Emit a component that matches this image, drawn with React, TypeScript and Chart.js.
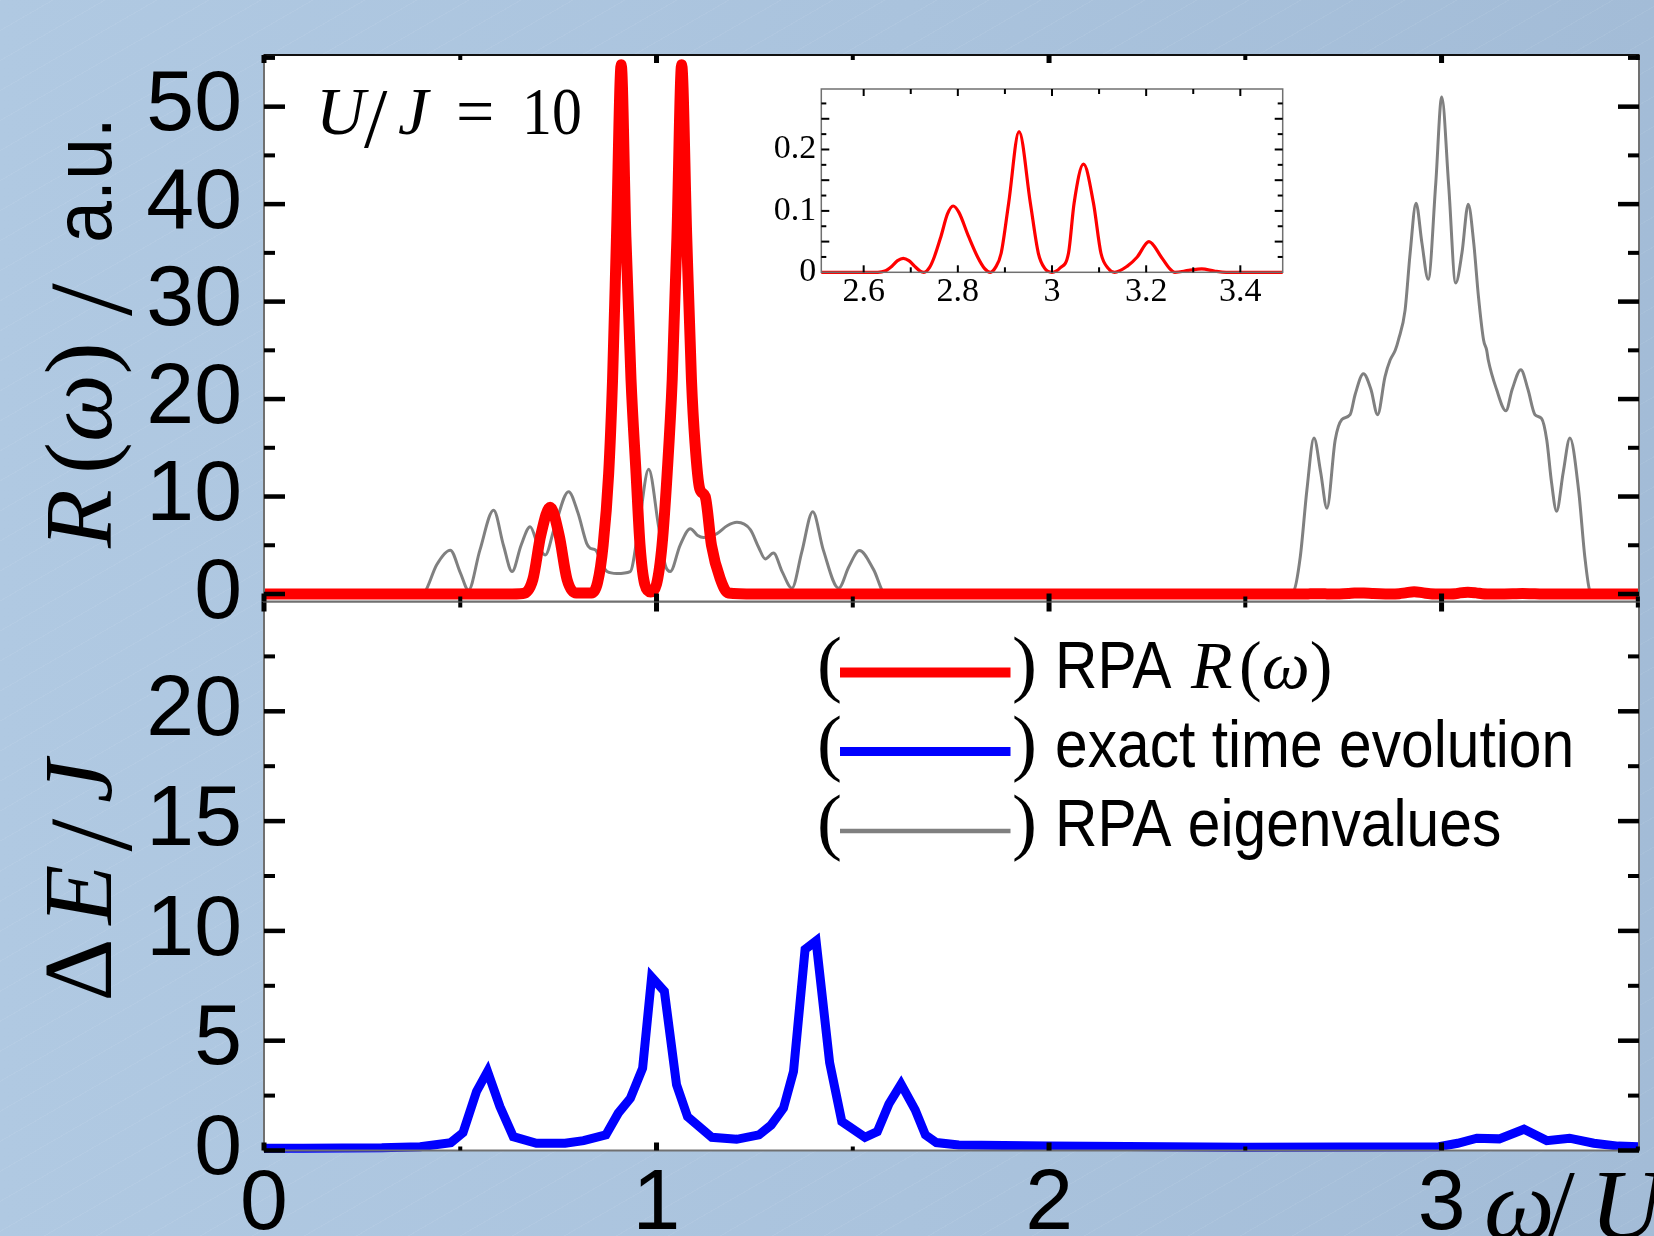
import React, { useEffect, useRef } from "react";
import { Chart, registerables } from "chart.js";
Chart.register(...registerables);

const W = 1654;
const H = 1236;
const SANS = "'Liberation Sans', Arial, sans-serif";
const SERIF = "'Liberation Serif', 'Times New Roman', serif";

type Pt = [number, number];

// ---------- axis ticks ----------
const xTickLabels = [0, 1, 2, 3];
const xMinorTicks = [0.5, 1.5, 2.5, 3.5];
const topYTicks = [0, 10, 20, 30, 40, 50];
const topYMinor = [5, 15, 25, 35, 45, 55];
const bottomYTicks = [0, 5, 10, 15, 20];
const bottomYMinor = [2.5, 7.5, 12.5, 17.5, 22.5];
const insetXTicks = [2.6, 2.8, 3.0, 3.2, 3.4];
const insetXMinor = [2.7, 2.9, 3.1, 3.3];
const insetYTicks = [0, 0.1, 0.2];
const insetYMarks = [0.05, 0.1, 0.15, 0.2, 0.25];
const insetYMinor = [0.025, 0.075, 0.125, 0.175, 0.225, 0.275];

// ---------- legend ----------
const legendLabels = ["RPA", "exact time evolution", "RPA eigenvalues"];
const legendColors = ["#ff0000", "#0000ff", "#808080"];

// ---------- series: RPA R(omega) (red) ----------
const rpaCurve: Pt[] = [
  [0, 0], [0.62, 0], [0.66, 0.05], [0.685, 1.5], [0.705, 6], [0.729, 8.9], [0.752, 6], [0.772, 1.5],
  [0.795, 0.1], [0.835, 0.1], [0.85, 1.2], [0.864, 5], [0.878, 12.3], [0.888, 22], [0.898, 36.6],
  [0.91, 54.3], [0.922, 36.6], [0.935, 22], [0.948, 12.3], [0.958, 5], [0.97, 1], [0.985, 0.2],
  [1.0, 1], [1.014, 5], [1.027, 12.3], [1.04, 22], [1.052, 36.6], [1.064, 54.3], [1.077, 36.6],
  [1.089, 22], [1.098, 15.5], [1.11, 10.8], [1.124, 10], [1.14, 5], [1.162, 1.6], [1.183, 0.1],
  [1.25, 0], [2.63, 0], [2.645, 0.002], [2.66, 0.01], [2.672, 0.019], [2.684, 0.0228], [2.696, 0.019],
  [2.708, 0.01], [2.72, 0.002], [2.728, 0], [2.74, 0.008], [2.75, 0.025], [2.764, 0.058], [2.778, 0.095],
  [2.79, 0.108], [2.802, 0.098], [2.823, 0.058], [2.842, 0.025], [2.857, 0.006], [2.869, 0],
  [2.88, 0.008], [2.892, 0.031], [2.908, 0.113], [2.93, 0.229], [2.954, 0.113], [2.971, 0.031],
  [2.985, 0.006], [3.0, 0], [3.017, 0.007], [3.035, 0.031], [3.047, 0.113], [3.067, 0.176],
  [3.088, 0.113], [3.104, 0.031], [3.12, 0.006], [3.133, 0], [3.16, 0.01], [3.181, 0.025],
  [3.206, 0.05], [3.232, 0.025], [3.25, 0.006], [3.261, 0], [3.29, 0.003], [3.318, 0.0055],
  [3.345, 0.002], [3.37, 0], [3.503, 0],
];

// ---------- series: RPA eigenvalues (gray) ----------
const eigCurve: Pt[] = [
  [0, 0], [0.4, 0], [0.41, 0.2], [0.44, 3.0], [0.4746, 4.5], [0.5, 2.2], [0.521, 0.4], [0.55, 4.5],
  [0.585, 8.6], [0.61, 5], [0.632, 2.3], [0.655, 5], [0.678, 6.9], [0.698, 5], [0.7166, 4.0],
  [0.74, 6.8], [0.776, 10.5], [0.8, 8.3], [0.822, 5.2], [0.831, 4.7], [0.845, 4.5], [0.86, 3.2],
  [0.874, 2.3], [0.899, 2.1], [0.933, 2.3], [0.955, 7], [0.98, 12.8], [1.005, 7], [1.022, 3],
  [1.035, 2.3], [1.06, 5], [1.086, 6.7], [1.105, 6.0], [1.12, 5.8], [1.154, 6.2], [1.18, 7.0],
  [1.205, 7.35], [1.239, 6.6], [1.26, 4.8], [1.277, 3.6], [1.298, 4.2], [1.32, 2.3], [1.345, 0.6],
  [1.37, 4.3], [1.398, 8.45], [1.425, 4.5], [1.464, 0.6], [1.49, 2.8], [1.517, 4.45], [1.553, 2.5],
  [1.583, 0], [2.6, 0], [2.623, 0.3], [2.64, 3.8], [2.657, 10.7], [2.675, 16.0], [2.692, 12.5],
  [2.708, 8.8], [2.729, 15.8], [2.746, 17.9], [2.767, 18.4], [2.78, 20.5], [2.801, 22.6], [2.82, 21],
  [2.837, 18.4], [2.856, 22.3], [2.869, 24.0], [2.882, 25.0], [2.89, 26.05], [2.907, 29.1],
  [2.92, 35], [2.935, 40.1], [2.95, 36], [2.966, 32.3], [2.985, 42], [3.0005, 51.0], [3.018, 42],
  [3.036, 31.9], [3.052, 35], [3.068, 40.0], [3.082, 36], [3.094, 30.5], [3.107, 26.05],
  [3.115, 25.0], [3.119, 24.0], [3.14, 21], [3.164, 18.8], [3.18, 21], [3.202, 23.0], [3.22, 21],
  [3.238, 18.4], [3.255, 18.0], [3.268, 15.8], [3.28, 11.5], [3.293, 8.5], [3.31, 12.5],
  [3.327, 16.0], [3.349, 10.7], [3.365, 3.8], [3.378, 0.3], [3.39, 0], [3.503, 0],
];

// ---------- series: exact time evolution (blue) ----------
const exactCurve: Pt[] = [
  [0, 0.1], [0.1, 0.1], [0.2, 0.11], [0.3, 0.12], [0.398, 0.17], [0.476, 0.36], [0.507, 0.81],
  [0.5415, 2.69], [0.5695, 3.6], [0.601, 2.0], [0.635, 0.63], [0.694, 0.33], [0.767, 0.33],
  [0.814, 0.45], [0.871, 0.71], [0.9025, 1.7], [0.9335, 2.38], [0.9646, 3.75], [0.9875, 7.9],
  [1.02, 7.25], [1.051, 2.99], [1.079, 1.54], [1.141, 0.6], [1.204, 0.51], [1.261, 0.71],
  [1.292, 1.16], [1.3235, 1.93], [1.349, 3.6], [1.3785, 9.16], [1.4065, 9.54], [1.441, 4.0],
  [1.472, 1.32], [1.531, 0.6], [1.5625, 0.86], [1.592, 2.12], [1.623, 3.02], [1.659, 1.85],
  [1.685, 0.71], [1.713, 0.36], [1.77, 0.25], [2.0, 0.2], [2.5, 0.15], [2.993, 0.17], [3.041, 0.33],
  [3.09, 0.56], [3.147, 0.53], [3.21, 0.97], [3.268, 0.45], [3.326, 0.56], [3.388, 0.33],
  [3.45, 0.2], [3.503, 0.17],
];

const toXY = (arr: Pt[]) => arr.map(([x, y]) => ({ x, y }));

interface TickSpec { values: number[]; len: number; width: number }
interface FrameCfg {
  frameColor: string;
  topColor?: string;
  frameWidth: number;
  yTicks: TickSpec[];
  xTop: TickSpec[];
  xBottom: TickSpec[];
}

type Part = { t: string; f: string; at?: number; dy?: number; sx?: number };
function drawSeq(ctx: CanvasRenderingContext2D, parts: Part[], x0: number, y0: number) {
  let x = x0;
  for (const p of parts) {
    if (p.at !== undefined) x = x0 + p.at;
    const sx = p.sx ?? 1;
    ctx.save();
    ctx.font = p.f;
    ctx.fillStyle = "#000";
    ctx.textBaseline = "alphabetic";
    ctx.textAlign = "left";
    const w = ctx.measureText(p.t).width * sx;
    ctx.translate(x, y0 + (p.dy ?? 0));
    ctx.scale(sx, 1);
    ctx.fillText(p.t, 0, 0);
    ctx.restore();
    x += w;
  }
}

function framePlugin(id: string, cfg: FrameCfg, extra?: (ctx: CanvasRenderingContext2D, chart: any) => void) {
  return {
    id,
    beforeDraw(chart: any) {
      const { ctx, chartArea: a } = chart;
      ctx.save();
      ctx.fillStyle = "#ffffff";
      ctx.fillRect(a.left, a.top, a.right - a.left, a.bottom - a.top);
      ctx.restore();
    },
    afterDraw(chart: any) {
      const { ctx, chartArea: a, scales } = chart;
      const xs = scales.x;
      const ys = scales.y;
      ctx.save();
      ctx.strokeStyle = cfg.frameColor;
      ctx.lineWidth = cfg.frameWidth;
      ctx.strokeRect(a.left, a.top, a.right - a.left, a.bottom - a.top);
      if (cfg.topColor) {
        ctx.strokeStyle = cfg.topColor;
        ctx.beginPath();
        ctx.moveTo(a.left, a.top);
        ctx.lineTo(a.right, a.top);
        ctx.stroke();
      }
      ctx.fillStyle = "#000";
      for (const t of cfg.yTicks) {
        for (const v of t.values) {
          const p = ys.getPixelForValue(v);
          if (p < a.top - 1 || p > a.bottom + 1) continue;
          ctx.fillRect(a.left, p - t.width / 2, t.len, t.width);
          ctx.fillRect(a.right - t.len, p - t.width / 2, t.len, t.width);
        }
      }
      for (const t of cfg.xTop) {
        for (const v of t.values) {
          const p = xs.getPixelForValue(v);
          if (p < a.left - 1 || p > a.right + 1) continue;
          ctx.fillRect(p - t.width / 2, a.top, t.width, t.len);
        }
      }
      for (const t of cfg.xBottom) {
        for (const v of t.values) {
          const p = xs.getPixelForValue(v);
          if (p < a.left - 1 || p > a.right + 1) continue;
          ctx.fillRect(p - t.width / 2, a.bottom - t.len, t.width, t.len);
        }
      }
      ctx.restore();
      if (extra) {
        ctx.save();
        extra(ctx, chart);
        ctx.restore();
      }
    },
  };
}

const bigTickFont = { family: SANS, size: 86, lineHeight: 1 };

function topConfig(): any {
  return {
    type: "line",
    data: {
      datasets: [
        {
          data: toXY(rpaCurve), borderColor: "#ff0000", borderWidth: 11, pointRadius: 0,
          cubicInterpolationMode: "monotone", fill: false, borderJoinStyle: "round",
          clip: { left: 0, right: 0, top: 6, bottom: 6 },
        },
        {
          data: toXY(eigCurve), borderColor: "#808080", borderWidth: 3, pointRadius: 0,
          cubicInterpolationMode: "monotone", fill: false,
          clip: { left: 0, right: 0, top: 3, bottom: 3 },
        },
      ],
    },
    options: {
      animation: false, responsive: false, devicePixelRatio: 1, events: [],
      layout: { padding: { left: 0, top: 55, right: 15, bottom: 98.5 } },
      plugins: { legend: { display: false }, tooltip: { enabled: false } },
      scales: {
        x: { type: "linear", min: 0, max: 3.503, display: false },
        y: {
          type: "linear", min: -0.77, max: 55.3,
          grid: { display: false, drawTicks: false }, border: { display: false },
          afterBuildTicks: (s: any) => { s.ticks = topYTicks.map((v) => ({ value: v })); },
          afterFit: (s: any) => { s.width = 264; s.paddingTop = 0; s.paddingBottom = 0; },
          ticks: { font: bigTickFont, color: "#000", padding: 22, callback: (v: any) => String(v) },
        },
      },
    },
    plugins: [
      framePlugin("topFrame", {
        frameColor: "#707070", topColor: "#111111", frameWidth: 2,
        yTicks: [{ values: topYTicks, len: 21, width: 4.5 }, { values: topYMinor, len: 11, width: 4 }],
        xTop: [{ values: xTickLabels, len: 8, width: 5 }, { values: xMinorTicks, len: 5, width: 4 }],
        xBottom: [{ values: xTickLabels, len: 8, width: 5 }, { values: xMinorTicks, len: 5, width: 4 }],
      }, (ctx) => {
        // y-axis title: R(ω) / a.u.
        ctx.translate(111, 548);
        ctx.rotate(-Math.PI / 2);
        drawSeq(ctx, [
          { t: "R", f: `italic 96px ${SERIF}`, at: 0 },
          { t: "(", f: `96px ${SERIF}`, at: 74 },
          { t: "ω", f: `italic 96px ${SERIF}` },
          { t: ")", f: `96px ${SERIF}` },
          { t: "/", f: `118px ${SERIF}`, at: 232, dy: 20 },
          { t: "a.u.", f: `82px ${SANS}`, at: 305, sx: 0.92 },
        ], 0, 0);
        ctx.setTransform(1, 0, 0, 1, 0, 0);
        // annotation U/J = 10
        drawSeq(ctx, [
          { t: "U", f: `italic 68px ${SERIF}`, at: 316 },
          { t: "/", f: `84px ${SERIF}`, at: 364, dy: 13 },
          { t: "J", f: `italic 68px ${SERIF}`, at: 398 },
          { t: "=", f: `68px ${SERIF}`, at: 456 },
          { t: "10", f: `68px ${SERIF}`, at: 522, sx: 0.88 },
        ], 0, 134.4);
      }),
    ],
  };
}

function bottomConfig(): any {
  return {
    type: "line",
    data: {
      datasets: [
        {
          data: toXY(exactCurve), borderColor: "#0000ff", borderWidth: 9, pointRadius: 0,
          tension: 0, fill: false, borderJoinStyle: "miter",
          clip: { left: 0, right: 0, top: 5, bottom: 5 },
        },
      ],
    },
    options: {
      animation: false, responsive: false, devicePixelRatio: 1, events: [],
      layout: { padding: { left: 0, top: 601.5, right: 15, bottom: 0 } },
      plugins: { legend: { display: false }, tooltip: { enabled: false } },
      scales: {
        x: {
          type: "linear", min: 0, max: 3.503,
          grid: { display: false, drawTicks: false }, border: { display: false },
          afterBuildTicks: (s: any) => { s.ticks = xTickLabels.map((v) => ({ value: v })); },
          afterFit: (s: any) => { s.height = 85.5; s.paddingLeft = 0; s.paddingRight = 0; },
          ticks: {
            font: bigTickFont, color: "#000", padding: 12, maxRotation: 0, minRotation: 0,
            autoSkip: false, callback: (v: any) => String(v),
          },
        },
        y: {
          type: "linear", min: 0, max: 25,
          grid: { display: false, drawTicks: false }, border: { display: false },
          afterBuildTicks: (s: any) => { s.ticks = bottomYTicks.map((v) => ({ value: v })); },
          afterFit: (s: any) => { s.width = 264; s.paddingTop = 0; s.paddingBottom = 0; },
          ticks: { font: bigTickFont, color: "#000", padding: 22, callback: (v: any) => String(v) },
        },
      },
    },
    plugins: [
      framePlugin("bottomFrame", {
        frameColor: "#707070", frameWidth: 2,
        yTicks: [{ values: bottomYTicks, len: 21, width: 4.5 }, { values: bottomYMinor, len: 11, width: 4 }],
        xTop: [{ values: xTickLabels, len: 10, width: 5 }, { values: xMinorTicks, len: 6, width: 4 }],
        xBottom: [{ values: xTickLabels, len: 8, width: 5 }, { values: xMinorTicks, len: 4, width: 4 }],
      }, (ctx) => {
        // y-axis title ΔE/J
        ctx.translate(111, 1001.6);
        ctx.rotate(-Math.PI / 2);
        drawSeq(ctx, [
          { t: "Δ", f: `98px ${SERIF}`, at: 0 },
          { t: "E", f: `italic 98px ${SERIF}`, at: 77 },
          { t: "/", f: `118px ${SERIF}`, at: 150, dy: 20 },
          { t: "J", f: `italic 98px ${SERIF}`, at: 198.6 },
        ], 0, 0);
        ctx.setTransform(1, 0, 0, 1, 0, 0);
        // legend
        const baselines = [687.5, 766.5, 846];
        const widths = [10, 9, 4.5];
        legendLabels.forEach((lab, i) => {
          const b = baselines[i];
          drawSeq(ctx, [{ t: "(", f: `75px ${SERIF}`, at: 817 }], 0, b);
          ctx.save();
          ctx.strokeStyle = legendColors[i];
          ctx.lineWidth = widths[i];
          ctx.beginPath();
          ctx.moveTo(840, b - 15);
          ctx.lineTo(1010.5, b - 15);
          ctx.stroke();
          ctx.restore();
          drawSeq(ctx, [
            { t: ")", f: `75px ${SERIF}`, at: 1012 },
            { t: lab, f: `66px ${SANS}`, at: 1055, sx: 0.89 },
          ], 0, b);
          if (i === 0) {
            drawSeq(ctx, [
              { t: "R", f: `italic 68px ${SERIF}`, at: 1191 },
              { t: "(", f: `68px ${SERIF}`, at: 1239 },
              { t: "ω", f: `italic 68px ${SERIF}` },
              { t: ")", f: `68px ${SERIF}` },
            ], 0, b);
          }
        });
        // x-axis title ω/U
        drawSeq(ctx, [
          { t: "ω", f: `italic 100px ${SERIF}`, at: 1484 },
          { t: "/", f: `100px ${SERIF}`, at: 1547 },
          { t: "U", f: `italic 100px ${SERIF}`, at: 1590 },
        ], 0, 1238);
      }),
    ],
  };
}

function insetConfig(): any {
  const insetFont = { family: SERIF, size: 34, lineHeight: 1 };
  return {
    type: "line",
    data: {
      datasets: [
        {
          data: toXY(rpaCurve), borderColor: "#ff0000", borderWidth: 3.2, pointRadius: 0,
          cubicInterpolationMode: "monotone", fill: false,
          clip: { left: 0, right: 0, top: 2, bottom: 2 },
        },
      ],
    },
    options: {
      animation: false, responsive: false, devicePixelRatio: 1, events: [],
      layout: { padding: { left: 0, top: 29, right: 37.3, bottom: 0 } },
      plugins: { legend: { display: false }, tooltip: { enabled: false } },
      scales: {
        x: {
          type: "linear", min: 2.51, max: 3.49,
          grid: { display: false, drawTicks: false }, border: { display: false },
          afterBuildTicks: (s: any) => { s.ticks = insetXTicks.map((v) => ({ value: v })); },
          afterFit: (s: any) => { s.height = 47.7; s.paddingLeft = 0; s.paddingRight = 0; },
          ticks: {
            font: insetFont, color: "#000", padding: 3, maxRotation: 0, minRotation: 0, autoSkip: false,
            callback: (v: any) => (Math.abs(v - 3) < 1e-9 ? "3" : Number(v).toFixed(1)),
          },
        },
        y: {
          type: "linear", min: 0, max: 0.2985,
          grid: { display: false, drawTicks: false }, border: { display: false },
          afterBuildTicks: (s: any) => { s.ticks = insetYTicks.map((v) => ({ value: v })); },
          afterFit: (s: any) => { s.width = 121.3; s.paddingTop = 0; s.paddingBottom = 0; },
          ticks: {
            font: insetFont, color: "#000", padding: 5,
            callback: (v: any) => (v === 0 ? "0" : Number(v).toFixed(1)),
          },
        },
      },
    },
    plugins: [
      framePlugin("insetFrame", {
        frameColor: "#707070", frameWidth: 1.5,
        yTicks: [{ values: insetYMarks, len: 8, width: 2 }, { values: insetYMinor, len: 5, width: 2 }],
        xTop: [{ values: insetXTicks, len: 7, width: 2 }, { values: insetXMinor, len: 5, width: 2 }],
        xBottom: [{ values: insetXTicks, len: 7, width: 2 }, { values: insetXMinor, len: 5, width: 2 }],
      }),
    ],
  };
}

export default function App() {
  const topRef = useRef<HTMLCanvasElement>(null);
  const botRef = useRef<HTMLCanvasElement>(null);
  const insRef = useRef<HTMLCanvasElement>(null);

  useEffect(() => {
    const charts: Chart[] = [];
    if (botRef.current) charts.push(new Chart(botRef.current, bottomConfig()));
    if (topRef.current) charts.push(new Chart(topRef.current, topConfig()));
    if (insRef.current) charts.push(new Chart(insRef.current, insetConfig()));
    return () => charts.forEach((c) => c.destroy());
  }, []);

  const bg =
    "repeating-linear-gradient(150deg, rgba(255,255,255,0.06) 0px, rgba(255,255,255,0.06) 1px, rgba(255,255,255,0) 1px, rgba(255,255,255,0) 26px), " +
    "linear-gradient(90deg, #b0c9e2 0%, #aac3dd 55%, #a3bcd7 100%)";

  return (
    <div style={{ position: "absolute", left: 0, top: 0, width: W, height: H, overflow: "hidden", background: bg }}>
      <canvas ref={botRef} width={W} height={H} style={{ position: "absolute", left: 0, top: 0 }} />
      <canvas ref={topRef} width={W} height={700} style={{ position: "absolute", left: 0, top: 0 }} />
      <canvas ref={insRef} width={620} height={260} style={{ position: "absolute", left: 700, top: 60 }} />
    </div>
  );
}
